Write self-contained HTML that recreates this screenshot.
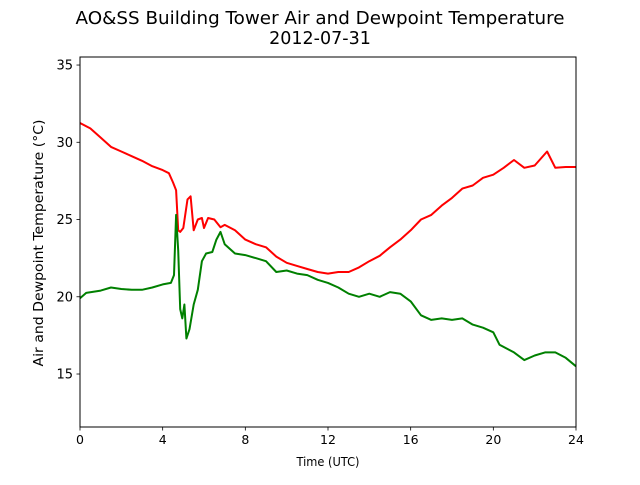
<!DOCTYPE html>
<html><head><meta charset="utf-8"><style>
body{margin:0;background:#fff;}
svg text{font-family:"DejaVu Sans","Liberation Sans",sans-serif;fill:#000;}
</style></head><body>
<svg id="chart" width="640" height="480" viewBox="0 0 640 480" xmlns="http://www.w3.org/2000/svg">
<rect width="640" height="480" fill="#fff"/>
<text x="320" y="24" font-size="17.5" text-anchor="middle" textLength="489" lengthAdjust="spacingAndGlyphs">AO&amp;SS Building Tower Air and Dewpoint Temperature</text>
<text x="320" y="44" font-size="17.5" text-anchor="middle">2012-07-31</text>
<g id="plot"></g>
<text x="328" y="466" font-size="12" text-anchor="middle" textLength="63" lengthAdjust="spacingAndGlyphs">Time (UTC)</text>
<text transform="translate(43,243) rotate(-90)" font-size="13.5" text-anchor="middle" textLength="247" lengthAdjust="spacingAndGlyphs">Air and Dewpoint Temperature (°C)</text>
</svg>
<script>
const xTicks=[0,4,8,12,16,20,24];
const yTicks=[15,20,25,30,35];
const airHours=[0,0.5,1,1.5,2,2.5,3,3.5,4,4.3,4.5,4.65,4.75,4.85,5.0,5.2,5.35,5.5,5.7,5.9,6.0,6.2,6.5,6.8,7.0,7.5,8,8.5,9,9.5,10,10.5,11,11.5,12,12.5,13,13.5,14,14.5,15,15.5,16,16.5,17,17.5,18,18.5,19,19.5,20,20.5,21,21.5,22,22.6,23,23.5,24];
const airTemp=[31.25,30.9,30.3,29.7,29.4,29.1,28.8,28.45,28.2,28.0,27.4,26.9,24.3,24.2,24.45,26.3,26.5,24.3,25.0,25.1,24.45,25.1,25.0,24.5,24.65,24.3,23.7,23.4,23.2,22.6,22.2,22.0,21.8,21.6,21.5,21.6,21.6,21.9,22.3,22.65,23.2,23.7,24.3,25.0,25.3,25.9,26.4,27.0,27.2,27.7,27.9,28.35,28.85,28.35,28.5,29.4,28.35,28.4,28.4];
const dewHours=[0,0.3,1,1.5,2,2.5,3,3.5,4,4.4,4.55,4.65,4.75,4.85,4.95,5.05,5.15,5.3,5.5,5.7,5.9,6.1,6.4,6.6,6.8,7.0,7.5,8,8.5,9,9.5,10,10.5,11,11.5,12,12.5,13,13.5,14,14.5,15,15.5,16,16.5,17,17.5,18,18.5,19,19.5,20,20.3,21,21.5,22,22.5,23,23.5,24];
const dewTemp=[19.9,20.25,20.4,20.6,20.5,20.45,20.45,20.6,20.8,20.9,21.4,25.3,23.0,19.2,18.6,19.5,17.3,17.9,19.5,20.45,22.3,22.8,22.9,23.7,24.2,23.4,22.8,22.7,22.5,22.3,21.6,21.7,21.5,21.4,21.1,20.9,20.6,20.2,20.0,20.2,20.0,20.3,20.2,19.7,18.8,18.5,18.6,18.5,18.6,18.2,18.0,17.7,16.9,16.4,15.9,16.2,16.4,16.4,16.05,15.5];
const L=80,R=576,T=57,B=427,xMin=0,xMax=24,yMin=11.57,yMax=35.52;
const xs=v=>L+(v-xMin)/(xMax-xMin)*(R-L);
const ys=v=>B-(v-yMin)/(yMax-yMin)*(B-T);
const NS='http://www.w3.org/2000/svg';
const g=document.getElementById('plot');
function mk(tag,attrs){const e=document.createElementNS(NS,tag);for(const k in attrs)e.setAttribute(k,attrs[k]);g.appendChild(e);return e;}
function series(hs,vs,color,name){
  const p=mk('polyline',{points:hs.map((h,i)=>xs(h).toFixed(1)+','+ys(vs[i]).toFixed(1)).join(' '),fill:'none',stroke:color,'stroke-width':2,'stroke-linejoin':'round'});
  
  
}
series(airHours,airTemp,'#ff0000','air-temperature-line');
series(dewHours,dewTemp,'#008000','dewpoint-temperature-line');
const frame=mk('rect',{x:L,y:T,width:R-L,height:B-T,fill:'none',stroke:'#000','stroke-width':1});


xTicks.forEach(t=>{
  const x=xs(t);
  const l=mk('line',{x1:x,x2:x,y1:B,y2:B+3.5,stroke:'#000','stroke-width':0.8});
  
  
  const tx=mk('text',{x:x,y:B+17,'font-size':12.5,'text-anchor':'middle'});
  tx.textContent=t;
  
  
});
yTicks.forEach(t=>{
  const y=ys(t);
  const l=mk('line',{x1:L-3.5,x2:L,y1:y,y2:y,stroke:'#000','stroke-width':0.8});
  
  
  const tx=mk('text',{x:L-7,y:y+4.5,'font-size':13,'text-anchor':'end'});
  tx.textContent=t;
  
  
});
</script>
</body></html>
